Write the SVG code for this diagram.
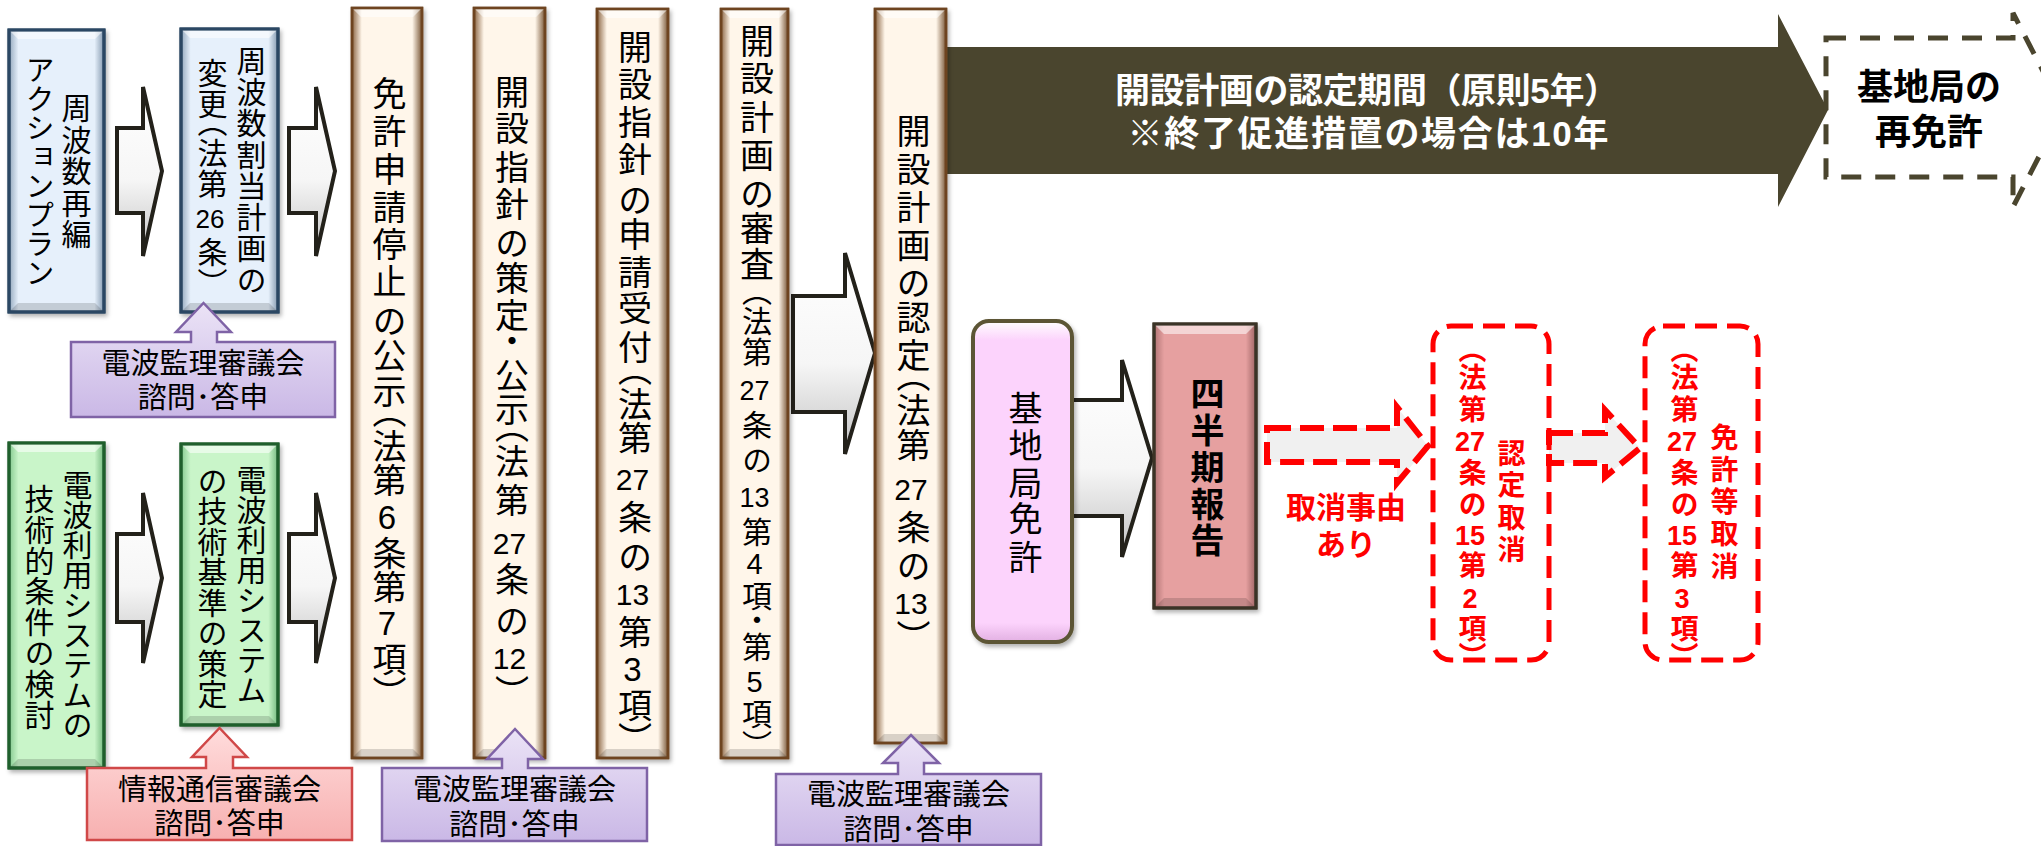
<svg xmlns="http://www.w3.org/2000/svg" width="2041" height="846" viewBox="0 0 2041 846">
<defs>
<style>
.tx{font-family:"Liberation Sans","Noto Sans CJK JP","Noto Sans CJK SC",sans-serif;text-anchor:middle;fill:#000}
.v{writing-mode:vertical-rl}
.vh{font-feature-settings:"vhal" 1}
.f27{font-size:27px}.f28{font-size:28px}.f29{font-size:29px}.f30{font-size:30px}.f33{font-size:33px}.f34{font-size:34px}.f36{font-size:36px}
.b{font-weight:700}
.red{fill:#ff0000}
.wh{fill:#ffffff}
.hi{fill:#ffffff;opacity:.55}
.lo{fill:#000000;opacity:.15}
.blue{fill:url(#gBlue);stroke:#2b4763;stroke-width:3}
.green{fill:url(#gGreen);stroke:#1f5f2c;stroke-width:3}
.cream{fill:url(#gCream);stroke:#6e4420;stroke-width:2.5}
.salmon{fill:url(#gSalmon);stroke:#3a3326;stroke-width:3}
.pinkbox{fill:url(#gPink);stroke:#5c5434;stroke-width:4}
.arr{fill:url(#gArr);stroke:#23211a;stroke-width:4;stroke-linejoin:miter}
.purple{fill:url(#gPurple);stroke:#7f63a6;stroke-width:2.5}
.pinkc{fill:url(#gPinkC);stroke:#d04848;stroke-width:2.5}
.rdash{fill:#f0f0f0;stroke:#ff0000;stroke-width:6;stroke-dasharray:24 9}
.rbox{fill:none;stroke:#ff0000;stroke-width:5;stroke-dasharray:22 10}
.ddash{fill:none;stroke:#4a452e;stroke-width:5;stroke-dasharray:20 14}
</style>
<linearGradient id="gBlue" x1="0" y1="0" x2="1" y2="0"><stop offset="0" stop-color="#93a8bd"/><stop offset="0.1" stop-color="#e6f0fb"/><stop offset="0.9" stop-color="#e6f0fb"/><stop offset="1" stop-color="#8499af"/></linearGradient>
<linearGradient id="gGreen" x1="0" y1="0" x2="1" y2="0"><stop offset="0" stop-color="#84c98f"/><stop offset="0.1" stop-color="#c9f5c9"/><stop offset="0.9" stop-color="#c9f5c9"/><stop offset="1" stop-color="#74b97f"/></linearGradient>
<linearGradient id="gCream" x1="0" y1="0" x2="1" y2="0"><stop offset="0" stop-color="#8a6442"/><stop offset="0.14" stop-color="#fff6ea"/><stop offset="0.86" stop-color="#fff6ea"/><stop offset="1" stop-color="#7a5838"/></linearGradient>
<linearGradient id="gSalmon" x1="0" y1="0" x2="1" y2="0"><stop offset="0" stop-color="#b07474"/><stop offset="0.1" stop-color="#e6a0a0"/><stop offset="0.9" stop-color="#e6a0a0"/><stop offset="1" stop-color="#9e6464"/></linearGradient>
<linearGradient id="gPink" x1="0" y1="0" x2="0" y2="1"><stop offset="0" stop-color="#ffffff"/><stop offset="0.06" stop-color="#fcd3fc"/><stop offset="0.94" stop-color="#fcd3fc"/><stop offset="1" stop-color="#e2b0e2"/></linearGradient>
<linearGradient id="gArr" x1="0" y1="0" x2="0" y2="1"><stop offset="0" stop-color="#ffffff"/><stop offset="0.55" stop-color="#f6f6f6"/><stop offset="1" stop-color="#c2c2c2"/></linearGradient>
<linearGradient id="gPurple" x1="0" y1="0" x2="0" y2="1"><stop offset="0" stop-color="#ebe3f6"/><stop offset="1" stop-color="#cab8e6"/></linearGradient>
<linearGradient id="gPinkC" x1="0" y1="0" x2="0" y2="1"><stop offset="0" stop-color="#ffdcdc"/><stop offset="1" stop-color="#f7b0b0"/></linearGradient>
<filter id="sh" x="-20%" y="-5%" width="140%" height="112%"><feDropShadow dx="2" dy="3" stdDeviation="2" flood-color="#000" flood-opacity="0.3"/></filter>
</defs>
<rect x="0" y="0" width="2041" height="846" fill="#ffffff"/>

<g id="connectors">
  <polygon class="arr" points="117,128 143,128 143,87 162,171 143,256 143,213 117,213"/>
  <polygon class="arr" points="289,128 316,128 316,87 335,171 316,256 316,213 289,213"/>
  <polygon class="arr" points="117,534 143,534 143,493 162,578 143,663 143,622 117,622"/>
  <polygon class="arr" points="289,534 316,534 316,493 335,578 316,663 316,622 289,622"/>
  <polygon class="arr" points="793,296 845,296 845,253 875,353 845,454 845,412 793,412"/>
  <polygon class="arr" points="1072,400 1122,400 1122,360 1152,458 1122,557 1122,516 1072,516"/>
  <g id="period-arrow">
    <polygon fill="#4a452e" points="946,47 1778,47 1778,14 1828,110 1778,207 1778,174 946,174"/>
    <text class="tx b wh" font-size="35" x="1367" y="103" textLength="504" lengthAdjust="spacing">開設計画の認定期間（原則5年）</text>
    <text class="tx b wh" font-size="35" x="1368" y="146" textLength="481" lengthAdjust="spacing">※終了促進措置の場合は10年</text>
  </g>
  <polygon class="rdash" points="1267,428 1397,428 1397,407 1428,446 1397,483 1397,462 1267,462"/>
  <text class="tx b red f30" x="1346" y="518">取消事由</text>
  <text class="tx b red f30" x="1346" y="555">あり</text>
  <polygon class="rdash" points="1549,433 1605,433 1605,410 1640,448 1605,477 1605,463 1549,463"/>
</g>

<g id="node-action-plan">
  <rect class="blue" x="9" y="30" width="95" height="282" filter="url(#sh)"/>
  <path class="hi" d="M9,30 H104 L95,39 H18 Z"/><path class="lo" d="M9,312 H104 L95,303 H18 Z"/>
  <rect x="9" y="30" width="95" height="282" fill="none" stroke="#2b4763" stroke-width="3"/>
  <text class="tx v f30"><tspan x="74" y="108">周</tspan><tspan x="74" y="139.5">波</tspan><tspan x="74" y="171">数</tspan><tspan x="74" y="202.5">再</tspan><tspan x="74" y="234">編</tspan></text>
  <text class="tx v f29"><tspan x="37" y="70">ア</tspan><tspan x="37" y="99">ク</tspan><tspan x="37" y="128">シ</tspan><tspan x="37" y="157">ョ</tspan><tspan x="37" y="186">ン</tspan><tspan x="37" y="215">プ</tspan><tspan x="37" y="244">ラ</tspan><tspan x="37" y="273">ン</tspan></text>
</g>

<g id="node-freq-plan">
  <rect class="blue" x="181" y="29" width="97" height="283" filter="url(#sh)"/>
  <path class="hi" d="M181,29 H278 L269,38 H190 Z"/><path class="lo" d="M181,312 H278 L269,303 H190 Z"/>
  <rect x="181" y="29" width="97" height="283" fill="none" stroke="#2b4763" stroke-width="3"/>
  <text class="tx v f30"><tspan x="249" y="60.6">周</tspan><tspan x="249" y="91.9">波</tspan><tspan x="249" y="123.1">数</tspan><tspan x="249" y="154.4">割</tspan><tspan x="249" y="185.6">当</tspan><tspan x="249" y="216.9">計</tspan><tspan x="249" y="248.1">画</tspan><tspan x="249" y="279.4">の</tspan></text>
  <text class="tx v f30"><tspan x="210" y="73">変</tspan><tspan x="210" y="104">更</tspan><tspan class="vh" x="210" y="129">（</tspan><tspan x="210" y="153">法</tspan><tspan x="210" y="184">第</tspan><tspan x="210" y="252">条</tspan><tspan class="vh" x="210" y="275">）</tspan></text>
  <text class="tx" font-size="26" x="210" y="228.4">26</text>
</g>

<g id="node-council-1">
  <path class="purple" d="M71,342 H191 V332 H176 L203.5,303 L231,332 H217 V342 H335 V417 H71 Z"/>
  <text class="tx f29" x="203" y="374">電波監理審議会</text>
  <text class="tx f29" x="203" y="408">諮問･答申</text>
</g>

<g id="node-tech-study">
  <rect class="green" x="9" y="443" width="95" height="325" filter="url(#sh)"/>
  <path class="hi" d="M9,443 H104 L95,452 H18 Z"/><path class="lo" d="M9,768 H104 L95,759 H18 Z"/>
  <rect x="9" y="443" width="95" height="325" fill="none" stroke="#1f5f2c" stroke-width="3"/>
  <text class="tx v f30"><tspan x="75" y="485">電</tspan><tspan x="75" y="515">波</tspan><tspan x="75" y="545">利</tspan><tspan x="75" y="575">用</tspan><tspan x="75" y="605">シ</tspan><tspan x="75" y="635">ス</tspan><tspan x="75" y="665">テ</tspan><tspan x="75" y="695">ム</tspan><tspan x="75" y="725">の</tspan></text>
  <text class="tx v f30"><tspan x="37" y="498.4">技</tspan><tspan x="37" y="529.3">術</tspan><tspan x="37" y="560.2">的</tspan><tspan x="37" y="591.1">条</tspan><tspan x="37" y="622">件</tspan><tspan x="37" y="652.9">の</tspan><tspan x="37" y="683.8">検</tspan><tspan x="37" y="714.7">討</tspan></text>
</g>

<g id="node-tech-standard">
  <rect class="green" x="181" y="444" width="97" height="281" filter="url(#sh)"/>
  <path class="hi" d="M181,444 H278 L269,453 H190 Z"/><path class="lo" d="M181,725 H278 L269,716 H190 Z"/>
  <rect x="181" y="444" width="97" height="281" fill="none" stroke="#1f5f2c" stroke-width="3"/>
  <text class="tx v f30"><tspan x="249" y="480">電</tspan><tspan x="249" y="510">波</tspan><tspan x="249" y="540">利</tspan><tspan x="249" y="570">用</tspan><tspan x="249" y="600">シ</tspan><tspan x="249" y="630">ス</tspan><tspan x="249" y="660">テ</tspan><tspan x="249" y="690">ム</tspan></text>
  <text class="tx v f30"><tspan x="210" y="480.3">の</tspan><tspan x="210" y="510.8">技</tspan><tspan x="210" y="541.3">術</tspan><tspan x="210" y="571.8">基</tspan><tspan x="210" y="602.3">準</tspan><tspan x="210" y="632.8">の</tspan><tspan x="210" y="663.3">策</tspan><tspan x="210" y="693.8">定</tspan></text>
</g>

<g id="node-council-info">
  <path class="pinkc" d="M87,768 H206 V757 H192 L219.5,728 L247,757 H233 V768 H352 V840 H87 Z"/>
  <text class="tx f29" x="219.5" y="800">情報通信審議会</text>
  <text class="tx f29" x="219.5" y="834">諮問･答申</text>
</g>

<g id="node-suspend">
  <rect class="cream" x="352" y="8" width="70" height="750" filter="url(#sh)"/>
  <path class="hi" d="M352,8 H422 L413,17 H361 Z"/><path class="lo" d="M352,758 H422 L413,749 H361 Z"/>
  <rect x="352" y="8" width="70" height="750" fill="none" stroke="#6e4420" stroke-width="2.5"/>
  <text class="tx v f34"><tspan x="387" y="93">免</tspan><tspan x="387" y="131">許</tspan><tspan x="387" y="169">申</tspan><tspan x="387" y="207">請</tspan><tspan x="387" y="244">停</tspan><tspan x="387" y="281">止</tspan><tspan x="387" y="321">の</tspan><tspan x="387" y="355">公</tspan><tspan x="387" y="391">示</tspan><tspan class="vh" x="387" y="420">（</tspan><tspan x="387" y="446">法</tspan><tspan x="387" y="480">第</tspan><tspan x="387" y="553">条</tspan><tspan x="387" y="587">第</tspan><tspan x="387" y="659">項</tspan><tspan class="vh" x="387" y="685">）</tspan></text>
  <text class="tx f33" x="387" y="529">6</text>
  <text class="tx f33" x="387" y="635">7</text>
</g>

<g id="node-guideline">
  <rect class="cream" x="474" y="8" width="71" height="750" filter="url(#sh)"/>
  <path class="hi" d="M474,8 H545 L536,17 H483 Z"/><path class="lo" d="M474,758 H545 L536,749 H483 Z"/>
  <rect x="474" y="8" width="71" height="750" fill="none" stroke="#6e4420" stroke-width="2.5"/>
  <text class="tx v f34"><tspan x="509.5" y="92">開</tspan><tspan x="509.5" y="128">設</tspan><tspan x="509.5" y="167">指</tspan><tspan x="509.5" y="204">針</tspan><tspan x="509.5" y="243">の</tspan><tspan x="509.5" y="278">策</tspan><tspan x="509.5" y="315">定</tspan><tspan class="vh" x="509.5" y="341">・</tspan><tspan x="509.5" y="375">公</tspan><tspan x="509.5" y="409">示</tspan><tspan class="vh" x="509.5" y="435">（</tspan><tspan x="509.5" y="461">法</tspan><tspan x="509.5" y="500">第</tspan><tspan x="509.5" y="579">条</tspan><tspan x="509.5" y="621">の</tspan><tspan class="vh" x="509.5" y="684">）</tspan></text>
  <text class="tx f30" x="509.5" y="553.8">27</text>
  <text class="tx f30" x="509.5" y="668.8">12</text>
</g>

<g id="node-council-2">
  <path class="purple" d="M382,768 H502 V759 H487 L515,729 L543,759 H528 V768 H647 V841 H382 Z"/>
  <text class="tx f29" x="514.5" y="800">電波監理審議会</text>
  <text class="tx f29" x="514.5" y="835">諮問･答申</text>
</g>

<g id="node-application">
  <rect class="cream" x="597" y="9" width="71" height="749" filter="url(#sh)"/>
  <path class="hi" d="M597,9 H668 L659,18 H606 Z"/><path class="lo" d="M597,758 H668 L659,749 H606 Z"/>
  <rect x="597" y="9" width="71" height="749" fill="none" stroke="#6e4420" stroke-width="2.5"/>
  <text class="tx v f34"><tspan x="632.5" y="47">開</tspan><tspan x="632.5" y="84">設</tspan><tspan x="632.5" y="122">指</tspan><tspan x="632.5" y="159">針</tspan><tspan x="632.5" y="200">の</tspan><tspan x="632.5" y="234">申</tspan><tspan x="632.5" y="272">請</tspan><tspan x="632.5" y="308">受</tspan><tspan x="632.5" y="347">付</tspan><tspan class="vh" x="632.5" y="378">（</tspan><tspan x="632.5" y="404">法</tspan><tspan x="632.5" y="438">第</tspan><tspan x="632.5" y="517">条</tspan><tspan x="632.5" y="557">の</tspan><tspan x="632.5" y="632">第</tspan><tspan x="632.5" y="705">項</tspan><tspan class="vh" x="632.5" y="731">）</tspan></text>
  <text class="tx f30" x="632.5" y="489.8">27</text>
  <text class="tx f30" x="632.5" y="604.8">13</text>
  <text class="tx f33" x="632.5" y="681">3</text>
</g>

<g id="node-review">
  <rect class="cream" x="721" y="9" width="67" height="749" filter="url(#sh)"/>
  <path class="hi" d="M721,9 H788 L779,18 H730 Z"/><path class="lo" d="M721,758 H788 L779,749 H730 Z"/>
  <rect x="721" y="9" width="67" height="749" fill="none" stroke="#6e4420" stroke-width="2.5"/>
  <text class="tx v f34"><tspan x="754.5" y="41">開</tspan><tspan x="754.5" y="78">設</tspan><tspan x="754.5" y="117">計</tspan><tspan x="754.5" y="155">画</tspan><tspan x="754.5" y="194">の</tspan><tspan x="754.5" y="228">審</tspan><tspan x="754.5" y="264">査</tspan></text>
  <text class="tx v f30"><tspan class="vh" x="754.5" y="298">（</tspan><tspan x="754.5" y="321">法</tspan><tspan x="754.5" y="352">第</tspan><tspan x="754.5" y="425">条</tspan><tspan x="754.5" y="460">の</tspan><tspan x="754.5" y="532">第</tspan><tspan x="754.5" y="596">項</tspan><tspan class="vh" x="754.5" y="620">・</tspan><tspan x="754.5" y="647">第</tspan><tspan x="754.5" y="714">項</tspan><tspan class="vh" x="754.5" y="737">）</tspan></text>
  <text class="tx f27" x="754.5" y="399.7">27</text>
  <text class="tx f27" x="754.5" y="506.7">13</text>
  <text class="tx f29" x="754.5" y="574.4">4</text>
  <text class="tx f29" x="754.5" y="692.4">5</text>
</g>

<g id="node-approval">
  <rect class="cream" x="875" y="9" width="71" height="734" filter="url(#sh)"/>
  <path class="hi" d="M875,9 H946 L937,18 H884 Z"/><path class="lo" d="M875,743 H946 L937,734 H884 Z"/>
  <rect x="875" y="9" width="71" height="734" fill="none" stroke="#6e4420" stroke-width="2.5"/>
  <text class="tx v f34"><tspan x="911" y="131">開</tspan><tspan x="911" y="169">設</tspan><tspan x="911" y="207">計</tspan><tspan x="911" y="245">画</tspan><tspan x="911" y="283">の</tspan><tspan x="911" y="317">認</tspan><tspan x="911" y="355">定</tspan><tspan class="vh" x="911" y="384">（</tspan><tspan x="911" y="410">法</tspan><tspan x="911" y="445">第</tspan><tspan x="911" y="527">条</tspan><tspan x="911" y="566">の</tspan><tspan class="vh" x="911" y="629">）</tspan></text>
  <text class="tx f30" x="911" y="499.8">27</text>
  <text class="tx f30" x="911" y="613.8">13</text>
</g>

<g id="node-council-3">
  <path class="purple" d="M776,774 H898 V763 H883 L911,735 L939,763 H924 V774 H1041 V845 H776 Z"/>
  <text class="tx f29" x="908.5" y="805">電波監理審議会</text>
  <text class="tx f29" x="908.5" y="840">諮問･答申</text>
</g>

<g id="node-station-license">
  <rect class="pinkbox" x="973" y="321" width="99" height="321" rx="16" ry="16" filter="url(#sh)"/>
  <text class="tx v f34"><tspan x="1023" y="408">基</tspan><tspan x="1023" y="445">地</tspan><tspan x="1023" y="483">局</tspan><tspan x="1023" y="518">免</tspan><tspan x="1023" y="557">許</tspan></text>
</g>

<g id="node-quarterly">
  <rect class="salmon" x="1154" y="324" width="102" height="284" filter="url(#sh)"/>
  <path class="hi" d="M1154,324 H1256 L1246,334 H1164 Z"/><path class="lo" d="M1154,608 H1256 L1246,598 H1164 Z"/>
  <rect x="1154" y="324" width="102" height="284" fill="none" stroke="#3a3326" stroke-width="3"/>
  <text class="tx v f34 b"><tspan x="1205" y="393">四</tspan><tspan x="1205" y="430">半</tspan><tspan x="1205" y="467">期</tspan><tspan x="1205" y="504">報</tspan><tspan x="1205" y="540">告</tspan></text>
</g>

<g id="node-revoke-approval">
  <rect class="rbox" x="1433" y="326" width="116" height="334" rx="18" ry="18"/>
  <text class="tx v f28 b red"><tspan class="vh" x="1470" y="356">（</tspan><tspan x="1470" y="377">法</tspan><tspan x="1470" y="409">第</tspan><tspan x="1470" y="472">条</tspan><tspan x="1470" y="504">の</tspan><tspan x="1470" y="565">第</tspan><tspan x="1470" y="628">項</tspan><tspan class="vh" x="1470" y="649">）</tspan></text>
  <text class="tx f27 b red" x="1470" y="450.7">27</text>
  <text class="tx f27 b red" x="1470" y="544.7">15</text>
  <text class="tx f27 b red" x="1470" y="607.7">2</text>
  <text class="tx v f28 b red"><tspan x="1509" y="453">認</tspan><tspan x="1509" y="484">定</tspan><tspan x="1509" y="517">取</tspan><tspan x="1509" y="549">消</tspan></text>
</g>

<g id="node-revoke-license">
  <rect class="rbox" x="1645" y="326" width="113" height="334" rx="18" ry="18"/>
  <text class="tx v f28 b red"><tspan class="vh" x="1682" y="356">（</tspan><tspan x="1682" y="377">法</tspan><tspan x="1682" y="409">第</tspan><tspan x="1682" y="472">条</tspan><tspan x="1682" y="504">の</tspan><tspan x="1682" y="565">第</tspan><tspan x="1682" y="628">項</tspan><tspan class="vh" x="1682" y="649">）</tspan></text>
  <text class="tx f27 b red" x="1682" y="450.7">27</text>
  <text class="tx f27 b red" x="1682" y="544.7">15</text>
  <text class="tx f27 b red" x="1682" y="607.7">3</text>
  <text class="tx v f28 b red"><tspan x="1722" y="437">免</tspan><tspan x="1722" y="469">許</tspan><tspan x="1722" y="501">等</tspan><tspan x="1722" y="533">取</tspan><tspan x="1722" y="566">消</tspan></text>
</g>

<g id="node-relicense">
  <polygon class="ddash" points="1826,38 2013,38 2013,13 2063,110 2013,207 2013,177 1826,177"/>
  <text class="tx f36 b" x="1929" y="100">基地局の</text>
  <text class="tx f36 b" x="1929" y="145">再免許</text>
</g>
</svg>
